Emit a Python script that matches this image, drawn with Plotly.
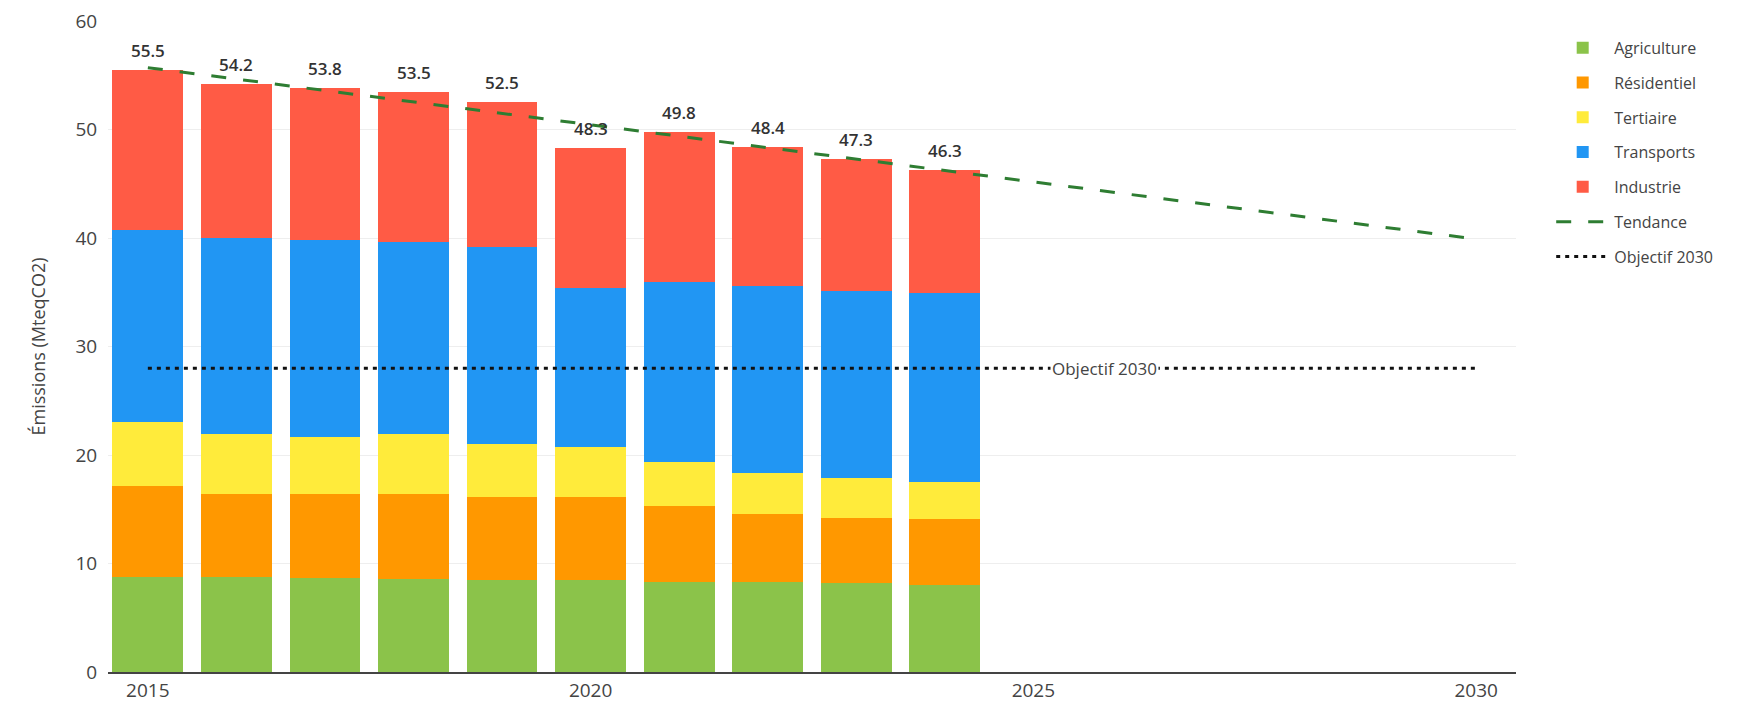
import plotly.graph_objects as go

years = [2015, 2016, 2017, 2018, 2019, 2020, 2021, 2022, 2023, 2024]
agriculture = [8.8, 8.8, 8.7, 8.6, 8.5, 8.5, 8.3, 8.3, 8.2, 8.0]
residentiel = [8.3, 7.6, 7.7, 7.8, 7.6, 7.6, 7.0, 6.3, 6.0, 6.1]
tertiaire = [5.9, 5.5, 5.3, 5.5, 4.9, 4.6, 4.1, 3.7, 3.7, 3.4]
transports = [17.7, 18.1, 18.1, 17.7, 18.2, 14.7, 16.5, 17.3, 17.2, 17.4]
industrie = [14.8, 14.2, 14.0, 13.9, 13.3, 12.9, 13.9, 12.8, 12.2, 11.4]
totals = [55.5, 54.2, 53.8, 53.5, 52.5, 48.3, 49.8, 48.4, 47.3, 46.3]

trend_years = [2015, 2030]
trend_values = [55.7, 39.9]

objectif_years = [2015, 2030]
objectif_values = [28, 28]
objectif_label = "Objectif 2030"
objectif_label_x = 2025.8

sectors = [
    ("Agriculture", agriculture, "#8BC34A"),
    ("Résidentiel", residentiel, "#FF9800"),
    ("Tertiaire", tertiaire, "#FFEB3B"),
    ("Transports", transports, "#2196F3"),
    ("Industrie", industrie, "#FF5B45"),
]

FONT = "Open Sans"

fig = go.Figure()
for name, vals, col in sectors:
    fig.add_trace(go.Bar(x=years, y=vals, name=name, legendgroup=name,
                         marker=dict(color=col, line=dict(width=0))))

fig.add_trace(go.Scatter(
    x=trend_years, y=trend_values, mode="lines", name="Tendance", legendgroup="Tendance",
    line=dict(color="#2E7D32", width=3, dash="15px,17px"),
))

fig.add_trace(go.Scatter(
    x=objectif_years, y=objectif_values, mode="lines", name="Objectif 2030",
    legendgroup="Objectif",
    line=dict(color="#111", width=3, dash="4px,5px"),
))

for yr, tot in zip(years, totals):
    fig.add_annotation(
        x=yr, y=tot, text=f"{tot:.1f}", showarrow=False, yanchor="bottom", yshift=6,
        font=dict(family=FONT, size=17, color="#333", weight=600),
    )

fig.add_annotation(
    x=objectif_label_x, y=objectif_values[0], text=objectif_label, showarrow=False,
    bgcolor="white", font=dict(family=FONT, size=17, color="#444"),
)

fig.update_layout(
    width=1750, height=703,
    barmode="stack", bargap=0.2,
    plot_bgcolor="white", paper_bgcolor="white",
    font=dict(family=FONT, size=19, color="#444"),
    margin=dict(l=100, r=242, t=13, b=39),
    legend=dict(traceorder="grouped", tracegroupgap=11, itemwidth=53,
                x=1.025, y=0.985, xanchor="left", yanchor="top",
                font=dict(family=FONT, size=16, color="#444")),
    xaxis=dict(range=[2014.55, 2030.45], tickmode="linear", tick0=2015, dtick=5,
               showgrid=False, showline=True, linecolor="#444", linewidth=1.5,
               zeroline=False, tickfont=dict(size=19), automargin=False,
               ticklabeloverflow="allow"),
    yaxis=dict(range=[0, 60], dtick=10, showgrid=True, gridcolor="#eeeeee",
               zeroline=False, showline=False, automargin=False,
               ticks="outside", ticklen=6, tickcolor="rgba(0,0,0,0)",
               ticklabeloverflow="allow",
               title=dict(text="Émissions (MteqCO2)", font=dict(size=18), standoff=25),
               tickfont=dict(size=19)),
)

fig.write_html("out.html")
